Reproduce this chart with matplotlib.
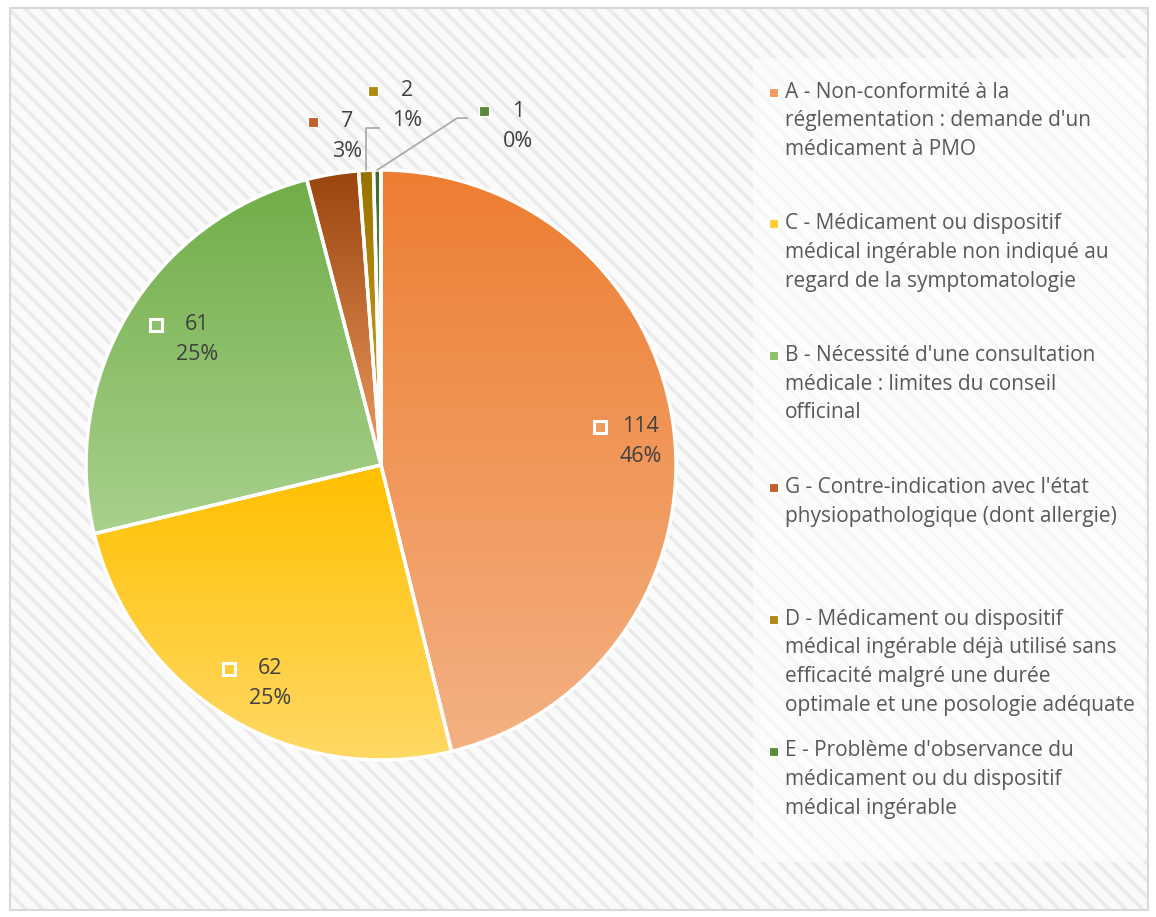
import matplotlib
matplotlib.use('Agg')
import matplotlib.pyplot as plt
import numpy as np
from matplotlib.colors import to_rgb
from matplotlib.patches import Rectangle
import matplotlib.transforms as mtransforms

plt.rcParams['hatch.linewidth'] = 2.5
plt.rcParams['font.family'] = ['Open Sans', 'DejaVu Sans']

# ---------------- data ----------------
codes = ["A", "C", "B", "G", "D", "E"]
values = [114, 62, 61, 7, 2, 1]
legend_labels = [
    "A - Non-conformité à la\nréglementation : demande d'un\nmédicament à PMO",
    "C - Médicament ou dispositif\nmédical ingérable non indiqué au\nregard de la symptomatologie",
    "B - Nécessité d'une consultation\nmédicale : limites du conseil\nofficinal",
    "G - Contre-indication avec l'état\nphysiopathologique (dont allergie)",
    "D - Médicament ou dispositif\nmédical ingérable déjà utilisé sans\nefficacité malgré une durée\noptimale et une posologie adéquate",
    "E - Problème d'observance du\nmédicament ou du dispositif\nmédical ingérable",
]

# ---------------- style ----------------
top_colors = ["#ED7D31", "#FFC000", "#70AD47", "#9A450E", "#987200", "#43682B"]
bot_colors = ["#F4B183", "#FFD966", "#A9D18E", "#EE9A60", "#D9A820", "#7FB25A"]
key_colors = ["#F09A5C", "#FFCB33", "#8CC06A", "#C0602A", "#B08A10", "#5A8A3C"]
# text centre of each data label, in pie data coords
label_pos = [(0.881, 0.078), (-0.376, -0.742), (-0.624, 0.424),
             (-0.115, 1.112), (0.088, 1.217), (0.464, 1.149)]
inside = [True, True, True, False, False, False]

W, H = 1156, 917
fig = plt.figure(figsize=(W / 100, H / 100), dpi=100)
fig.patch.set_facecolor('white')

# background
bg = fig.add_axes([0, 0, 1, 1])
bg.set_xlim(0, W)
bg.set_ylim(H, 0)
bg.axis('off')
bg.add_patch(Rectangle((10, 8), 1138, 902, facecolor='#FAFAFA', edgecolor='#EAEAEA',
                       hatch='\\\\', lw=0, zorder=0))
bg.add_patch(Rectangle((10, 8), 1138, 902, fill=False, edgecolor='#D9D9D9', lw=1.5, zorder=1))
bg.add_patch(Rectangle((753, 58), 392, 804, facecolor='white', alpha=0.6, lw=0, zorder=1))

# legend
for i, lab in enumerate(legend_labels):
    y0 = 92 + i * 131.8
    bg.add_patch(Rectangle((769, y0 - 4.5), 9, 9, facecolor=key_colors[i],
                           edgecolor='white', lw=0.8, zorder=3))
    for j, line in enumerate(lab.split('\n')):
        bg.text(785, y0 + j * 28.7, line, fontsize=15, color='#595959',
                va='center', ha='left', zorder=3)

# pie
cx, cy, R = 381, 465, 295
ax = fig.add_axes([(cx - R) / W, (H - cy - R) / H, 2 * R / W, 2 * R / H])
ax.patch.set_visible(False)
wedges, _ = ax.pie(values, startangle=90, counterclock=False, radius=1,
                   wedgeprops=dict(edgecolor='white', linewidth=2.5, facecolor='none'))

for w, ct, cb in zip(wedges, top_colors, bot_colors):
    v = w.get_path().vertices
    xmin, xmax = v[:, 0].min(), v[:, 0].max()
    ymin, ymax = v[:, 1].min(), v[:, 1].max()
    t = np.linspace(0, 1, 256)[:, None]
    grad = (1 - t) * np.array(to_rgb(ct)) + t * np.array(to_rgb(cb))
    grad = grad[:, None, :]
    im = ax.imshow(grad, extent=[xmin, xmax, ymin, ymax], origin='upper',
                   aspect='auto', interpolation='bilinear', zorder=0.5)
    im.set_clip_path(w)
    w.set_zorder(2)

ax.set_xlim(-1, 1)
ax.set_ylim(-1, 1)
ax.set_aspect('equal')
ax.axis('off')

total = sum(values)
for i, (v, (x, y)) in enumerate(zip(values, label_pos)):
    pct = f"{round(100 * v / total)}%"
    t1 = mtransforms.offset_copy(ax.transData, fig, x=0, y=15, units='dots')
    t2 = mtransforms.offset_copy(ax.transData, fig, x=0, y=-15, units='dots')
    ax.text(x, y, str(v), transform=t1, ha='center', va='center', fontsize=15.5,
            color='#404040', zorder=5, clip_on=False)
    ax.text(x, y, pct, transform=t2, ha='center', va='center', fontsize=15.5,
            color='#404040', zorder=5, clip_on=False)
    tm = mtransforms.offset_copy(ax.transData, fig, x=-41 if inside[i] else -34,
                                 y=15, units='dots')
    if inside[i]:
        ax.plot([x], [y], marker='s', markersize=8.5, markerfacecolor=key_colors[i],
                markeredgecolor='white', markeredgewidth=2.2, transform=tm,
                zorder=5, clip_on=False)
    else:
        ax.plot([x], [y], marker='s', markersize=6.5, markerfacecolor=key_colors[i],
                markeredgecolor='white', markeredgewidth=0.8, transform=tm,
                zorder=5, clip_on=False)

# leader lines for small slices D and E
angles = []
acc = 0
for v in values:
    mid = 90 - (acc + v / 2) / total * 360
    angles.append(np.deg2rad(mid))
    acc += v
# D
a = angles[4]
x0, y0 = np.cos(a), np.sin(a)
ax.plot([x0, x0, -0.007], [y0, 1.142, 1.142], color='#A6A6A6', lw=1.2,
        zorder=4, clip_on=False)
# E
a = angles[5]
x0, y0 = np.cos(a), np.sin(a)
ax.plot([x0, 0.258, 0.292], [y0, 1.176, 1.176], color='#A6A6A6', lw=1.2,
        zorder=4, clip_on=False)

fig.savefig('out.png', dpi=100)
